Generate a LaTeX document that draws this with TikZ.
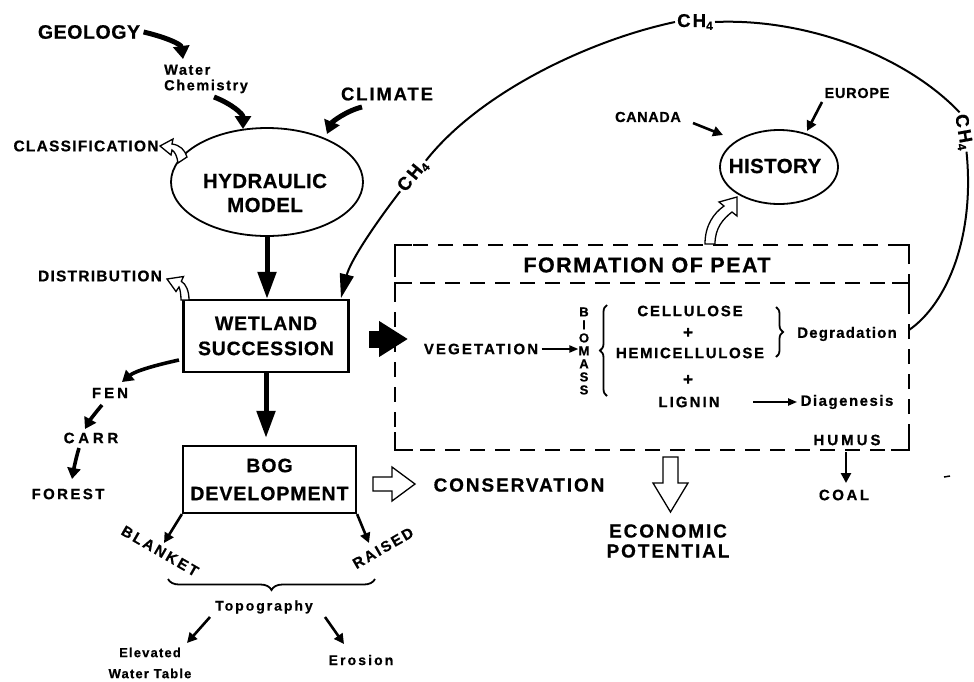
\documentclass[tikz,border=0pt]{standalone}
\usepackage{fontspec}
\setmainfont{Liberation Sans}
\usetikzlibrary{arrows.meta,shapes.geometric,decorations.pathreplacing,calc}
\newcommand{\labfont}[3]{\bfseries\fontsize{#1}{#2}\selectfont\addfontfeature{LetterSpace=#3,FakeBold=0.6}}
\newcommand{\chfour}{CH\raisebox{-3pt}{\fontsize{12}{12}\selectfont 4}}
\begin{document}
\begin{tikzpicture}[x=1pt,y=-1pt,
  a5/.style={line width=5pt,-{Triangle[length=13pt,width=16pt]}},
  vert/.style={line width=5pt,-{Triangle[length=27pt,width=18pt]}},
  a4/.style={line width=3.6pt,-{Triangle[length=11pt,width=13pt]}},
  a3/.style={line width=2.6pt,-{Triangle[length=10pt,width=10pt]}},
  a2/.style={line width=2pt,-{Triangle[length=9pt,width=7pt]}},
  chline/.style={line width=2pt},
  chlab/.style={inner sep=2pt,font={\labfont{18.5}{20}{12}}},
  hollow/.style={draw,fill=white,line width=1.3pt,line join=miter},
  pdash/.style={line width=2pt,dash pattern=on 15pt off 10pt},
  pcorner/.style={line width=2pt},
  boxn/.style={draw,line width=2.2pt,inner sep=0pt,align=center},
  ell/.style={draw,ellipse,line width=1.8pt,inner sep=0pt},
  brc/.style={decorate,line width=1.8pt},
]
\useasboundingbox (0,0) rectangle (974,681);

% ---------- left column ----------
\node[font={\labfont{19.5}{22}{3}}] (geo) at (89,32) {GEOLOGY};
\node[font={\labfont{14.5}{15.5}{11}},align=left,anchor=west,inner sep=0pt] (wc) at (164,79) {Water\\Chemistry};
\node[font={\labfont{18.5}{20}{10}}] (cli) at (387,94) {CLIMATE};
\node[ell,minimum width=192pt,minimum height=108pt] (hyd) at (267,182) {};
\node[font={\labfont{20.5}{24}{2}},align=center] (hydt) at (265,193) {HYDRAULIC\\MODEL};
\node[font={\labfont{15.5}{16}{8}}] (cls) at (86,146) {CLASSIFICATION};
\node[font={\labfont{15.5}{16}{8}}] (dis) at (100,276) {DISTRIBUTION};
\node[boxn,minimum width=165pt,minimum height=72pt,font={\labfont{19.5}{25}{4}}] (wet) at (266,336) {WETLAND\\SUCCESSION};
\node[boxn,minimum width=173pt,minimum height=67pt,font={\labfont{19.5}{28}{5}}] (bog) at (269.5,479.5) {BOG\\DEVELOPMENT};
\node[font={\labfont{15}{16}{20}}] (fen) at (110,393) {FEN};
\node[font={\labfont{15}{16}{25}}] (carr) at (91,438) {CARR};
\node[font={\labfont{15}{16}{16}}] (for) at (68,494) {FOREST};
\node[font={\labfont{15}{16}{16}},rotate=-30] (bla) at (160,551) {BLANKET};
\node[font={\labfont{15}{16}{14}},rotate=30] (rai) at (383,548) {RAISED};
\node[font={\labfont{14}{15}{14}}] (topo) at (264,607) {Topography};
\node[font={\labfont{13}{21}{9}},align=center] (ewt) at (150,663) {Elevated\\Water Table};
\node[font={\labfont{14}{15}{15}}] (ero) at (361,660) {Erosion};
\node[font={\labfont{19}{20}{10}}] (con) at (519,485) {CONSERVATION};
\node[font={\labfont{19}{20}{10}},align=center] (eco) at (668,541) {ECONOMIC\\POTENTIAL};

% brace under blanket / raised
\draw[brc,decoration={brace,amplitude=11pt}] (375,579) -- (168,579);

% thick black arrows
\coordinate (geoend) at (183,59);
\draw[a5] (geo.east) .. controls (165,37) and (181,44) .. (geoend);
\coordinate (wcs) at (214,97);
\coordinate (wce) at (243,129);
\draw[a5] (wcs) .. controls (232,104) and (243,114) .. (wce);
\coordinate (clis) at (362,107);
\coordinate (clie) at (327,134);
\draw[a5] (clis) .. controls (346,111) and (332,122) .. (clie);
\draw[vert] (hyd.south) -- (hyd.south |- wet.north);
\draw[vert,shorten >=7pt] (wet.south) -- (wet.south |- bog.north);
\coordinate (fens) at (179,360);
\coordinate (fene) at (122,382);
\draw[a4] (fens) .. controls (156,365) and (135,371) .. (fene);
\coordinate (carrs) at (102,405);
\coordinate (carre) at (85,429);
\draw[a4] (carrs) .. controls (96,412) and (90,420) .. (carre);
\coordinate (fors) at (79,448);
\coordinate (fore) at (72,479);
\draw[a4] (fors) .. controls (76,458) and (74,468) .. (fore);
\coordinate (blae) at (164,543);
\coordinate (raie) at (369,543);
\draw[a3] (bog.south west) -- (blae);
\draw[a3] (bog.south east) -- (raie);
\coordinate (tl1) at (210,617);
\coordinate (tl2) at (187,643);
\coordinate (tr1) at (325,617);
\coordinate (tr2) at (344,644);
\draw[a3] (tl1) -- (tl2);
\draw[a3] (tr1) -- (tr2);

% hollow arrows
\draw[hollow] (178,163) .. controls (177,156) and (175,152) .. (172,150) -- (171,155) -- (160,146) -- (173,139) -- (172,144) .. controls (180,145) and (185,150) .. (187,157) -- cycle;
\draw[hollow] (181,300) .. controls (181,294) and (180,289) .. (179,287) -- (176,291.5) -- (167,279) -- (183.5,276.5) -- (181.3,281.3) .. controls (186,284) and (189,291) .. (189,300) -- cycle;
\draw[hollow] (373,477) -- (392,477) -- (392,467) -- (415,484) -- (392,501) -- (392,491) -- (373,491) -- cycle;
\draw[hollow] (663,457) -- (678,457) -- (678,483) -- (688,483) -- (670.5,512) -- (653,483) -- (663,483) -- cycle;

% ---------- formation of peat ----------
\node[draw,pdash,minimum width=514pt,minimum height=205pt,inner sep=0pt] (peat) at (652,347.5) {};
\draw[pdash] (395,283) -- (909,283);
\draw[pcorner] (395,262) -- (395,245) -- (412,245);
\draw[pcorner] (892,245) -- (909,245) -- (909,262);
\draw[pcorner] (395,300) -- (395,283) -- (412,283);
\draw[pcorner] (892,283) -- (909,283) -- (909,300);
\draw[pcorner] (395,432) -- (395,450) -- (413,450);
\draw[pcorner] (891,450) -- (909,450) -- (909,432);
\node[font={\labfont{21.5}{24}{7}}] (fop) at (647,265) {FORMATION OF PEAT};

\coordinate (ba1) at (369,339);
\coordinate (ba2) at (408,339);
\draw[line width=17pt,-{Triangle[length=29pt,width=34pt]}] (ba1) -- (ba2);

\node[font={\labfont{15}{16}{14}}] (veg) at (481,349) {VEGETATION};
\node[font={\labfont{13}{13}{0}},align=center,inner sep=0pt] (bio) at (584,351) {B\\I\\O\\M\\A\\S\\S};
\draw[a2] (veg.east) -- (bio.west |- veg.east);
\draw[brc,decoration={brace,amplitude=7pt}] (607,396) -- (607,305);
\node[font={\labfont{15}{16}{12}}] (cel) at (690,311) {CELLULOSE};
\node[font={\labfont{17}{16}{0}}] (p1) at (688,333) {+};
\node[font={\labfont{15}{16}{11}}] (hem) at (690,353) {HEMICELLULOSE};
\node[font={\labfont{17}{16}{0}}] (p2) at (688,380) {+};
\node[font={\labfont{15}{16}{14}}] (lig) at (689,402) {LIGNIN};
\draw[brc,decoration={brace,amplitude=7pt}] (776,307) -- (776,357);
\node[font={\labfont{15}{16}{8}}] (deg) at (847,334) {Degradation};
\node[font={\labfont{15}{16}{10}}] (dia) at (847,402) {Diagenesis};
\coordinate (ligs) at (753,402);
\draw[a2] (ligs) -- (dia.west);
\node[font={\labfont{15}{16}{20}}] (hum) at (847,440) {HUMUS};
\node[font={\labfont{15}{16}{17}}] (coal) at (844,495) {COAL};
\draw[a3] (846,452) -- (846,483);
\draw[line width=1.5pt] (944,477) -- (950,476);

% ---------- history ----------
\node[ell,minimum width=118pt,minimum height=74pt] (his) at (779,167) {};
\node[font={\labfont{20.5}{24}{2}}] (hist) at (775,166) {HISTORY};
\node[font={\labfont{14.5}{15}{4}}] (can) at (648,117) {CANADA};
\node[font={\labfont{14.5}{15}{5}}] (eur) at (857,93) {EUROPE};
\coordinate (cane) at (723,135);
\coordinate (eure) at (807,131);
\draw[a3] (693,123) -- (cane);
\draw[a3] (822,102) -- (eure);
\draw[hollow] (705,244) .. controls (705,225) and (714,213) .. (724,206) -- (719,202) -- (737,197) -- (737,216) -- (732,212) .. controls (723,219) and (715,228) .. (715,244) -- cycle;

% ---------- CH4 loop ----------
\node[chlab,rotate=-80] (ch2) at (963,132) {\chfour};
\node[chlab] (ch1) at (695,22) {\chfour};
\node[chlab,rotate=50] (ch3) at (413,176) {\chfour};
\coordinate (chs) at (909,330);
\coordinate (che) at (341,298);
\draw[chline] (chs) .. controls (948,303) and (975,235) .. (ch2.east);
\draw[chline] (ch2.west) .. controls (905,55) and (805,18) .. (ch1.east);
\draw[chline] (ch1.west) .. controls (590,40) and (480,92) .. (ch3.east);
\draw[chline,-{Triangle[length=24pt,width=14pt]}] (ch3.west) .. controls (372,228) and (350,262) .. (che);
\end{tikzpicture}
\end{document}
